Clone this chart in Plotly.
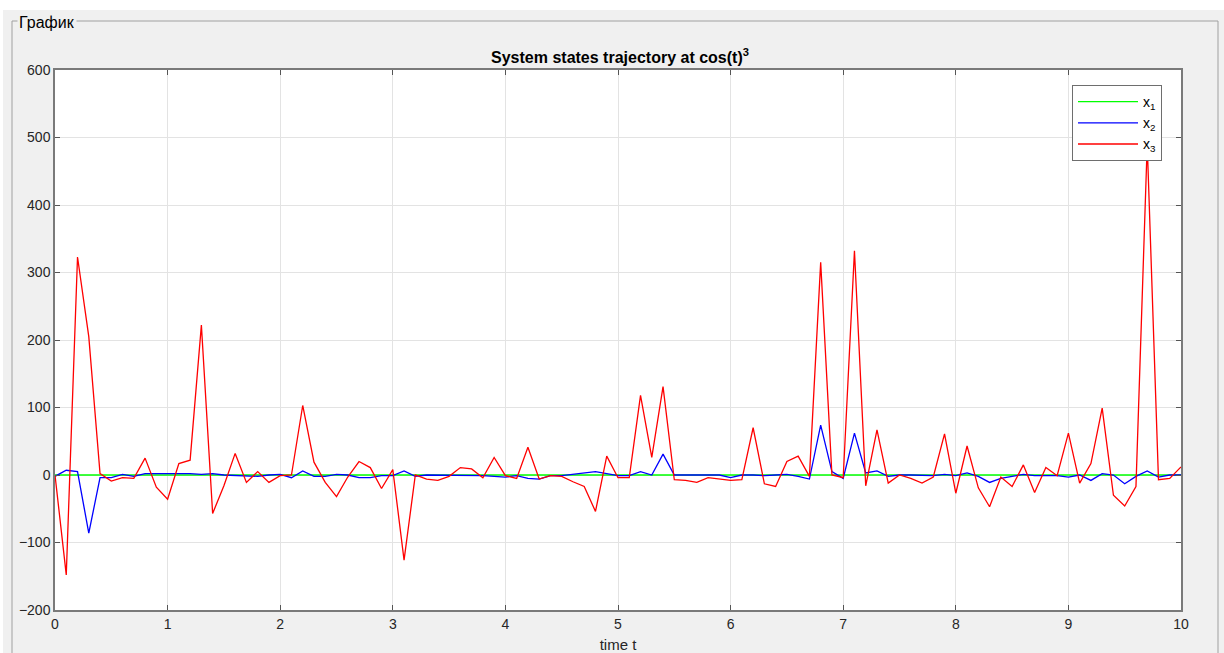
import plotly.graph_objects as go

t = [round(i * 0.1, 1) for i in range(101)]

x1 = [0.0] * 101

x2 = [-2, 7, 5, -86, -4, -4, 1, -2, 2, 2,
      2, 3, 2, 1, 2, 0, -1, -2, -2, 0,
      1, -4, 6, -2, -2, 1, 0, -4, -4, -1,
      -1, 6, -2, 0, 0, -1, -1, -1, -1, -2,
      -3, -1, -5, -6, -1, -1, 1, 4, 5, 2,
      -1, -1, 5, 0, 31, 0, 0, 0, 1, 0,
      -4, 0, 0, -1, 0, 1, -2, -6, 74, 5,
      -5, 62, 3, 6, -2, 0, 0, 0, -1, 1,
      -1, 3, -2, -11, -5, -2, 1, -1, -1, -1,
      -3, 0, -8, 2, 0, -13, -2, 6, -3, 0,
      0]

x3 = [0, -148, 323, 205, 2, -9, -4, -5, 25, -18,
      -36, 17, 22, 222, -57, -16, 32, -11, 5, -11,
      -1, 0, 103, 19, -11, -32, -3, 20, 11, -20,
      8, -126, 0, -6, -8, -2, 11, 9, -4, 26,
      -1, -5, 41, -6, -1, -2, -10, -17, -54, 28,
      -4, -4, 118, 26, 131, -7, -8, -11, -4, -6,
      -8, -7, 70, -13, -17, 20, 28, -2, 315, 0,
      -4, 332, -16, 67, -12, 0, -5, -12, -3, 61,
      -27, 43, -19, -47, -3, -17, 15, -26, 11, -1,
      62, -12, 17, 99, -30, -46, -17, 490, -7, -5,
      12]

W, H = 1224, 653
L, R, T, B = 55, 1181, 70, 610
FONT = "Arial, Liberation Sans, sans-serif"


def px(x):
    return (x - L) / (R - L)


def py(y):
    return (B - y) / (B - T)


fig = go.Figure()
fig.add_trace(go.Scatter(x=t, y=x1, mode="lines", name="x<sub>1</sub>",
                         line=dict(color="#00ff00", width=1.3)))
fig.add_trace(go.Scatter(x=t, y=x2, mode="lines", name="x<sub>2</sub>",
                         line=dict(color="#0000ff", width=1.3)))
fig.add_trace(go.Scatter(x=t, y=x3, mode="lines", name="x<sub>3</sub>",
                         line=dict(color="#ff0000", width=1.3)))

axis_common = dict(
    showgrid=True, gridcolor="#e3e3e3", gridwidth=1,
    showline=True, linecolor="#7a7a7a", linewidth=1.5, mirror="ticks",
    ticks="inside", ticklen=5, tickcolor="#555555",
    zeroline=False,
    tickfont=dict(family=FONT, size=14, color="#262626"),
)

fig.update_layout(
    width=W, height=H,
    margin=dict(l=L, r=W - R, t=T, b=H - B, autoexpand=False),
    paper_bgcolor="#f0f0f0",
    plot_bgcolor="white",
    showlegend=True,
    title=dict(
        text="<b>System states trajectory at cos(t)<sup>3</sup></b>",
        x=620 / W, xanchor="center", y=1 - 57 / H, yanchor="middle",
        font=dict(family=FONT, size=16, color="#000000"),
    ),
    xaxis=dict(range=[0, 10], dtick=1, tick0=0,
               title=dict(text="time t", standoff=9,
                          font=dict(family=FONT, size=15, color="#262626")),
               **axis_common),
    yaxis=dict(range=[-200, 600], dtick=100, tick0=0, **axis_common),
    legend=dict(
        x=px(1072), y=py(85), xanchor="left", yanchor="top",
        bgcolor="white", bordercolor="#6e6e6e", borderwidth=1,
        font=dict(family=FONT, size=14, color="#000000"),
        itemwidth=60, tracegroupgap=0,
    ),
    shapes=[
        dict(type="rect", xref="paper", yref="paper",
             x0=px(-5), x1=px(W + 5), y0=py(10), y1=py(-5),
             fillcolor="white", line=dict(width=0), layer="below"),
        dict(type="rect", xref="paper", yref="paper",
             x0=px(-5), x1=px(3), y0=py(H + 5), y1=py(10),
             fillcolor="white", line=dict(width=0), layer="below"),
        dict(type="rect", xref="paper", yref="paper",
             x0=px(12), x1=px(1218), y0=py(H + 10), y1=py(21),
             fillcolor="rgba(0,0,0,0)", line=dict(color="#a0a0a0", width=1), layer="below"),
    ],
    annotations=[
        dict(text="График", xref="paper", yref="paper",
             x=px(17), y=py(22), xanchor="left", yanchor="middle",
             showarrow=False, bgcolor="#f0f0f0", borderpad=1,
             font=dict(family=FONT, size=16, color="#000000")),
    ],
)

fig.write_html(
    "out.html",
    config={"displayModeBar": False},
    post_script="document.body.style.margin='0';document.body.style.overflow='hidden';",
)
